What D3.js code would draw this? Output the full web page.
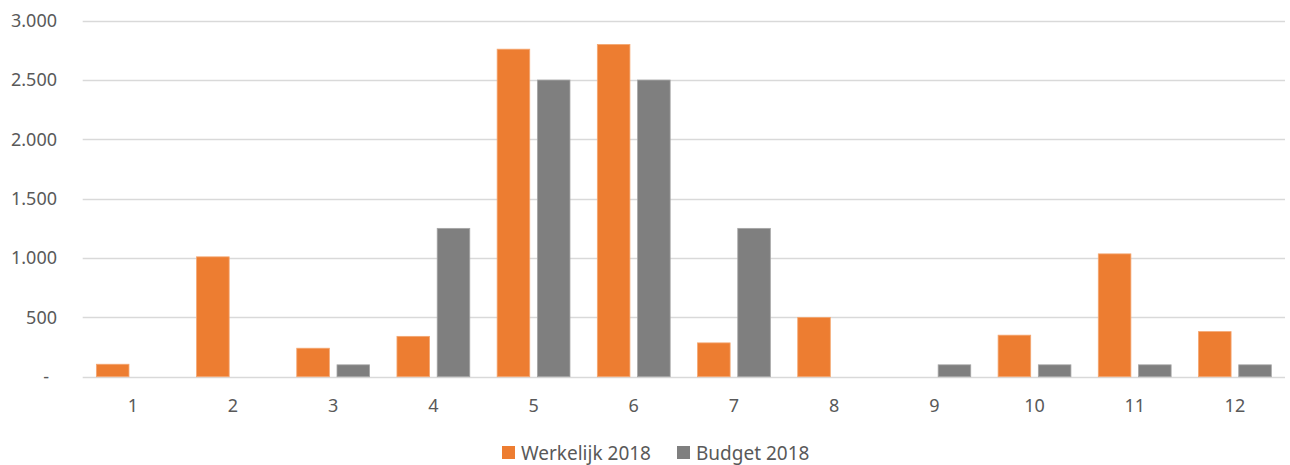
<!DOCTYPE html>
<html>
<head>
<meta charset="utf-8">
<script src="https://cdn.jsdelivr.net/npm/d3@7"></script>
<style>
  body { margin: 0; background: #fff; }
  svg text { font-family: "Noto Sans", sans-serif; fill: #595959; }
</style>
</head>
<body>
<div id="chart"></div>
<script>
// data
const months = ["1", "2", "3", "4", "5", "6", "7", "8", "9", "10", "11", "12"];
const werkelijk = [105, 1010, 240, 340, 2760, 2800, 285, 500, 0, 350, 1035, 380];
const budget = [0, 0, 100, 1250, 2500, 2500, 1250, 0, 100, 100, 100, 100];
const seriesNames = ["Werkelijk 2018", "Budget 2018"];
const seriesColors = ["#ED7D31", "#7F7F7F"];
const yTicks = [0, 500, 1000, 1500, 2000, 2500, 3000];

const width = 1290, height = 465;
const margin = { top: 20.7, right: 5, bottom: 88.3, left: 82.7 };

const svg = d3.select("#chart").append("svg")
    .attr("width", width)
    .attr("height", height);

const x = d3.scaleBand()
    .domain(months)
    .range([margin.left, width - margin.right]);

const x1 = d3.scaleBand()
    .domain(seriesNames)
    .range([0, x.bandwidth()])
    .paddingInner(0.19)
    .paddingOuter(0.34);

const y = d3.scaleLinear()
    .domain([0, 3000])
    .range([height - margin.bottom, margin.top]);

const fmt = v => v === 0 ? "-" : d3.format(",")(v).replace(/,/g, ".");

// gridlines
svg.append("g")
    .selectAll("line")
    .data(yTicks)
    .join("line")
    .attr("x1", margin.left)
    .attr("x2", width - margin.right)
    .attr("y1", d => Math.round(y(d)) + 0.5)
    .attr("y2", d => Math.round(y(d)) + 0.5)
    .attr("stroke", "#d9d9d9")
    .attr("stroke-width", 1.3);

// y labels
svg.append("g")
    .selectAll("text")
    .data(yTicks)
    .join("text")
    .attr("x", d => d === 0 ? 49 : 57)
    .attr("y", d => y(d))
    .attr("dy", "0.35em")
    .attr("text-anchor", "end")
    .style("font-size", "18px")
    .text(fmt);

// bars
const rows = months.map((m, i) => ({ month: m, values: [werkelijk[i], budget[i]] }));

const groups = svg.append("g")
    .selectAll("g")
    .data(rows)
    .join("g")
    .attr("transform", d => `translate(${x(d.month)},0)`);

groups.selectAll("rect")
    .data(d => d.values.map((v, k) => ({ name: seriesNames[k], value: v, k })))
    .join("rect")
    .filter(d => d.value > 0)
    .attr("x", d => x1(d.name))
    .attr("width", x1.bandwidth())
    .attr("y", d => y(d.value))
    .attr("height", d => y(0) - y(d.value))
    .attr("fill", d => seriesColors[d.k])
    .attr("stroke", d => d.k === 0 ? "#f4a772" : "#a6a6a6")
    .attr("stroke-width", 0.8);

// x labels
svg.append("g")
    .selectAll("text")
    .data(months)
    .join("text")
    .attr("x", d => x(d) + x.bandwidth() / 2)
    .attr("y", 412)
    .attr("text-anchor", "middle")
    .style("font-size", "18px")
    .text(d => d);

// legend
const legendItems = [
    { name: seriesNames[0], color: seriesColors[0], x: 502 },
    { name: seriesNames[1], color: seriesColors[1], x: 677 }
];
const legend = svg.append("g")
    .selectAll("g")
    .data(legendItems)
    .join("g")
    .attr("transform", d => `translate(${d.x},446)`);

legend.append("rect")
    .attr("width", 13)
    .attr("height", 13)
    .attr("fill", d => d.color);

legend.append("text")
    .attr("x", 19)
    .attr("y", 13.5)
    .style("font-size", "19px")
    .text(d => d.name);
</script>
</body>
</html>
